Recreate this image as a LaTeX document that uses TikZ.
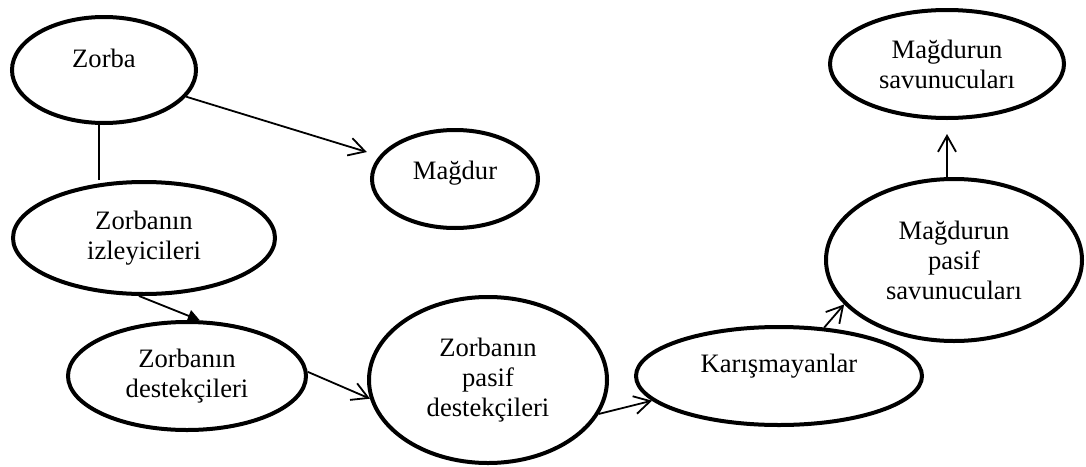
\documentclass[tikz,border=0pt]{standalone}
\usepackage{fontspec}
\setmainfont{Liberation Serif}
\usetikzlibrary{shapes.geometric,arrows.meta}

\begin{document}
\begin{tikzpicture}[x=0.5pt, y=-0.5pt,
    oval/.style={draw, ellipse, line width=2pt, inner sep=0pt, align=center,
      font=\fontsize{13.3}{15}\selectfont},
    arr/.style={-{Straight Barb[length=8pt,width=9pt]}, line width=0.9pt},
    tri/.style={-{Triangle[length=6pt,width=6pt]}, line width=0.9pt}]
  \useasboundingbox (0,0) rectangle (1086,466);
  % bully side
  \node [oval, minimum width=92pt, minimum height=53pt, text depth=12pt] (zorba) at (104,70) {Zorba};
  \node [oval, minimum width=83pt, minimum height=49pt, text depth=9pt] (magdur) at (455,179) {Mağdur};
  \node [oval, minimum width=131pt, minimum height=56pt] (izl) at (144,238) {Zorbanın\\izleyicileri};
  \node [oval, minimum width=119pt, minimum height=54pt] (dest) at (187,376) {Zorbanın\\destekçileri};
  \node [oval, minimum width=119pt, minimum height=83pt] (pdest) at (488,380) {Zorbanın\\pasif\\destekçileri};
  % bystanders and defenders
  \node [oval, minimum width=143pt, minimum height=49pt, text depth=13pt] (kar) at (779,376) {Karışmayanlar};
  \node [oval, minimum width=128pt, minimum height=81pt] (psav) at (954,260) {Mağdurun\\pasif\\savunucuları};
  \node [oval, minimum width=117pt, minimum height=54pt] (sav) at (947,64) {Mağdurun\\savunucuları};

  \draw [line width=0.9pt] (zorba.265) -- (zorba.265 |- izl.north);
  \draw [arr, shorten >=6.5pt] (zorba.-18) -- (magdur.163);
  \draw [tri] (izl.265) -- (dest.77);
  \draw [arr] (dest.2) -- (pdest.189);
  \draw [arr] (pdest.343) -- (kar.191);
  \draw [arr] (kar.47) -- (psav.202);
  \draw [arr, shorten >=7pt] (psav.north -| sav.south) -- (sav.south);
\end{tikzpicture}
\end{document}
